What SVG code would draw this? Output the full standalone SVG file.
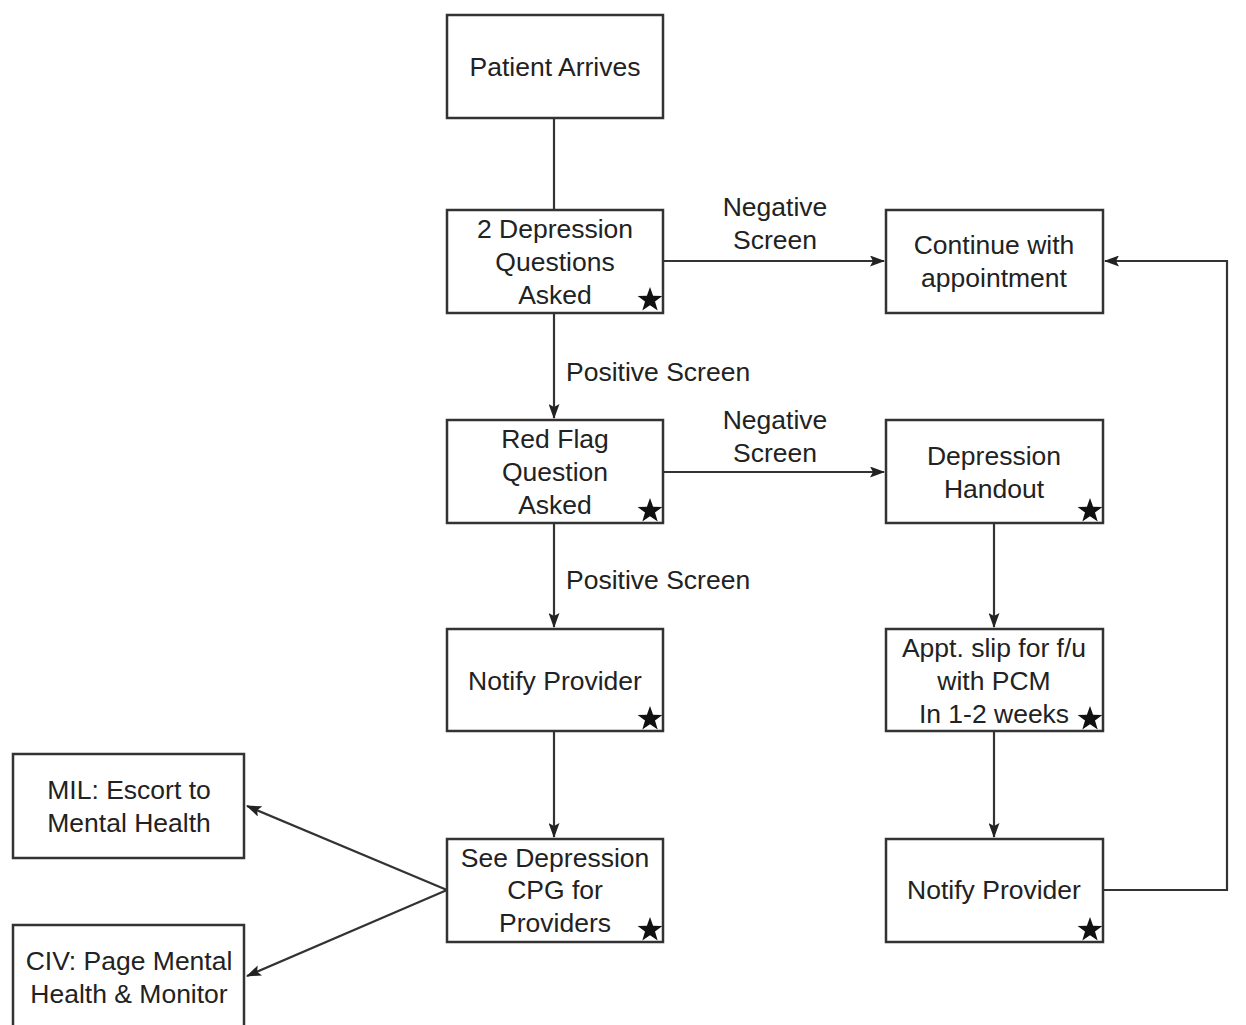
<svg xmlns="http://www.w3.org/2000/svg" width="1246" height="1025" viewBox="0 0 1246 1025">
<defs>
<style>
.box{fill:#fff;stroke:#333;stroke-width:2.5}
.t{font-family:"Liberation Sans",Arial,sans-serif;font-size:26.5px;fill:#222;text-anchor:middle}
.l{font-family:"Liberation Sans",Arial,sans-serif;font-size:26.5px;fill:#222}
.c{fill:none;stroke:#333;stroke-width:2.2}
.star{fill:#111}
</style>
<marker id="ah" viewBox="0 0 15 11" refX="14" refY="5.5" markerWidth="15" markerHeight="11" markerUnits="userSpaceOnUse" orient="auto">
<path d="M0,0 L15,5.5 L0,11 L3,5.5 Z" fill="#222"/>
</marker>
<path id="st" d="M0,-13 L3.1,-4.2 L12.4,-4 L5,1.6 L7.7,10.5 L0,5.2 L-7.7,10.5 L-5,1.6 L-12.4,-4 L-3.1,-4.2 Z"/>
</defs>
<rect width="1246" height="1025" fill="#fff"/>
<g id="connectors">
<path class="c" d="M554,118 V210"/>
<path class="c" d="M663,261 H884" marker-end="url(#ah)"/>
<path class="c" d="M554,313 V418" marker-end="url(#ah)"/>
<path class="c" d="M663,472 H884" marker-end="url(#ah)"/>
<path class="c" d="M554,523 V627" marker-end="url(#ah)"/>
<path class="c" d="M554,731 V837" marker-end="url(#ah)"/>
<path class="c" d="M994,523 V627" marker-end="url(#ah)"/>
<path class="c" d="M994,731 V837" marker-end="url(#ah)"/>
<path class="c" d="M1103,890 H1227 V261 H1105" marker-end="url(#ah)"/>
<path class="c" d="M447,890 L247,806" marker-end="url(#ah)"/>
<path class="c" d="M447,890 L247,976" marker-end="url(#ah)"/>
<text class="t" x="775" y="216">Negative</text>
<text class="t" x="775" y="249">Screen</text>
<text class="l" x="566" y="381">Positive Screen</text>
<text class="t" x="775" y="429">Negative</text>
<text class="t" x="775" y="462">Screen</text>
<text class="l" x="566" y="589">Positive Screen</text>
</g>
<g id="patient-arrives">
<rect class="box" x="447" y="15" width="216" height="103"/>
<text class="t" x="555" y="76">Patient Arrives</text>
</g>
<g id="depression-questions">
<rect class="box" x="447" y="210" width="216" height="103"/>
<text class="t" x="555" y="238">2 Depression</text>
<text class="t" x="555" y="271">Questions</text>
<text class="t" x="555" y="304">Asked</text>
<use href="#st" class="star" x="650" y="300"/>
</g>
<g id="continue-appointment">
<rect class="box" x="886" y="210" width="217" height="103"/>
<text class="t" x="994" y="254">Continue with</text>
<text class="t" x="994" y="287">appointment</text>
</g>
<g id="red-flag">
<rect class="box" x="447" y="420" width="216" height="103"/>
<text class="t" x="555" y="448">Red Flag</text>
<text class="t" x="555" y="481">Question</text>
<text class="t" x="555" y="514">Asked</text>
<use href="#st" class="star" x="650" y="511"/>
</g>
<g id="depression-handout">
<rect class="box" x="886" y="420" width="217" height="103"/>
<text class="t" x="994" y="465">Depression</text>
<text class="t" x="994" y="498">Handout</text>
<use href="#st" class="star" x="1090" y="511"/>
</g>
<g id="notify-provider-1">
<rect class="box" x="447" y="629" width="216" height="102"/>
<text class="t" x="555" y="690">Notify Provider</text>
<use href="#st" class="star" x="650" y="719"/>
</g>
<g id="appt-slip">
<rect class="box" x="886" y="629" width="217" height="102"/>
<text class="t" x="994" y="657">Appt. slip for f/u</text>
<text class="t" x="994" y="690">with PCM</text>
<text class="t" x="994" y="723">In 1-2 weeks</text>
<use href="#st" class="star" x="1090" y="719"/>
</g>
<g id="see-cpg">
<rect class="box" x="447" y="839" width="216" height="103"/>
<text class="t" x="555" y="867">See Depression</text>
<text class="t" x="555" y="899">CPG for</text>
<text class="t" x="555" y="932">Providers</text>
<use href="#st" class="star" x="650" y="930"/>
</g>
<g id="notify-provider-2">
<rect class="box" x="886" y="839" width="217" height="103"/>
<text class="t" x="994" y="899">Notify Provider</text>
<use href="#st" class="star" x="1090" y="930"/>
</g>
<g id="mil-escort">
<rect class="box" x="13" y="754" width="231" height="104"/>
<text class="t" x="129" y="799">MIL: Escort to</text>
<text class="t" x="129" y="832">Mental Health</text>
</g>
<g id="civ-page">
<rect class="box" x="13" y="925" width="231" height="110"/>
<text class="t" x="129" y="970">CIV: Page Mental</text>
<text class="t" x="129" y="1003">Health &amp; Monitor</text>
</g>
</svg>
